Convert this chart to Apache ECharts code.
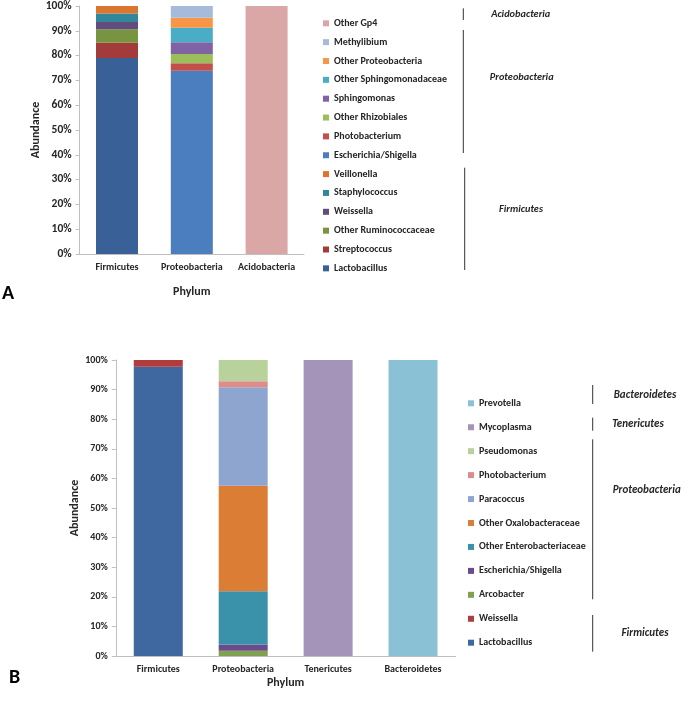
<!DOCTYPE html>
<html>
<head>
<meta charset="utf-8">
<script src="https://cdn.jsdelivr.net/npm/echarts@6/dist/echarts.min.js"></script>
<style>html,body{margin:0;padding:0;background:#fff}#c{width:685px;height:702px}</style>
</head>
<body>
<div id="c"></div>
<script>
// ---------- DATA: Panel A ----------
const phylaA = ['Firmicutes', 'Proteobacteria', 'Acidobacteria'];
const yTicks = ['0%','10%','20%','30%','40%','50%','60%','70%','80%','90%','100%'];
const generaA_Firmicutes = ['Lactobacillus', 'Streptococcus', 'Other Ruminococcaceae', 'Weissella', 'Staphylococcus', 'Veillonella'];
const valuesA_Firmicutes = [79.0, 6.2, 5.4, 2.9, 3.5, 3.0];
const generaA_Proteobacteria = ['Escherichia/Shigella', 'Photobacterium', 'Other Rhizobiales', 'Sphingomonas', 'Other Sphingomonadaceae', 'Other Proteobacteria', 'Methylibium'];
const valuesA_Proteobacteria = [73.9, 3.0, 3.75, 4.7, 5.9, 4.0, 4.75];
const generaA_Acidobacteria = ['Other Gp4'];
const valuesA_Acidobacteria = [100];

// ---------- DATA: Panel B ----------
const phylaB = ['Firmicutes', 'Proteobacteria', 'Tenericutes', 'Bacteroidetes'];
const generaB_Firmicutes = ['Lactobacillus', 'Weissella'];
const valuesB_Firmicutes = [97.7, 2.3];
const generaB_Proteobacteria = ['Arcobacter', 'Escherichia/Shigella', 'Other Enterobacteriaceae', 'Other Oxalobacteraceae', 'Paracoccus', 'Photobacterium', 'Pseudomonas'];
const valuesB_Proteobacteria = [1.8, 2.1, 18.0, 35.6, 33.3, 2.0, 7.2];
const generaB_Tenericutes = ['Mycoplasma'];
const valuesB_Tenericutes = [100];
const generaB_Bacteroidetes = ['Prevotella'];
const valuesB_Bacteroidetes = [100];

// ---------- STYLES ----------
const colorsA = {
  'Lactobacillus':'#3A6098','Streptococcus':'#A23B3A','Other Ruminococcaceae':'#789440','Weissella':'#624C7E',
  'Staphylococcus':'#32879D','Veillonella':'#DB7530','Escherichia/Shigella':'#4A7EBE','Photobacterium':'#C44E4C',
  'Other Rhizobiales':'#9BBD5A','Sphingomonas':'#8063A3','Other Sphingomonadaceae':'#4AADC8','Other Proteobacteria':'#F79646',
  'Methylibium':'#A7BADA','Other Gp4':'#DAA6A6'
};
const colorsB = {
  'Lactobacillus':'#3F68A0','Weissella':'#B23B3B','Arcobacter':'#7FA150','Escherichia/Shigella':'#6A4B8C',
  'Other Enterobacteriaceae':'#3A92AA','Other Oxalobacteraceae':'#DC7D36','Paracoccus':'#8EA6CF','Photobacterium':'#DF8B8B',
  'Pseudomonas':'#B9D19A','Mycoplasma':'#A494BA','Prevotella':'#8BC1D5'
};
const FONT = 'Carlito, "Liberation Sans", Arial, sans-serif';
const TXT = '#262626';
const AXC = '#BFBFBF';

function buildSeries(panel, phyla, groups, colors, gridIdx, barWidth) {
  const out = [];
  groups.forEach(([phylum, genera, values]) => {
    const ci = phyla.indexOf(phylum);
    genera.forEach((g, k) => {
      const data = phyla.map((_, i) => i === ci ? values[k] : null);
      out.push({
        name: panel + g, type: 'bar', stack: panel, xAxisIndex: gridIdx, yAxisIndex: gridIdx,
        barWidth: barWidth, data: data, itemStyle: { color: colors[g] }, emphasis: { disabled: true }
      });
    });
  });
  return out;
}

const seriesA = buildSeries('A|', phylaA, [
  ['Firmicutes', generaA_Firmicutes, valuesA_Firmicutes],
  ['Proteobacteria', generaA_Proteobacteria, valuesA_Proteobacteria],
  ['Acidobacteria', generaA_Acidobacteria, valuesA_Acidobacteria]
], colorsA, 0, 42);
const seriesB = buildSeries('B|', phylaB, [
  ['Firmicutes', generaB_Firmicutes, valuesB_Firmicutes],
  ['Proteobacteria', generaB_Proteobacteria, valuesB_Proteobacteria],
  ['Tenericutes', generaB_Tenericutes, valuesB_Tenericutes],
  ['Bacteroidetes', generaB_Bacteroidetes, valuesB_Bacteroidetes]
], colorsB, 1, 49);

const legendA = seriesA.map(s => s.name).reverse();
const legendB = seriesB.map(s => s.name).reverse();

function yAxis(gridIndex, fs, nameGap) {
  return {
    gridIndex, type: 'value', min: 0, max: 100, interval: 10,
    name: 'Abundance', nameLocation: 'middle', nameGap: nameGap,
    nameTextStyle: { fontFamily: FONT, fontWeight: 'bold', fontSize: 12, color: TXT },
    axisLine: { show: true, lineStyle: { color: AXC } },
    axisTick: { show: true, length: 4, lineStyle: { color: AXC } },
    splitLine: { show: false },
    axisLabel: { formatter: v => yTicks[Math.round(v / 10)], fontFamily: FONT, fontWeight: 'bold', fontSize: fs, color: TXT, margin: 8 }
  };
}
function xAxis(gridIndex, cats, nameGap) {
  return {
    gridIndex, type: 'category', data: cats, boundaryGap: true,
    name: 'Phylum', nameLocation: 'middle', nameGap: nameGap,
    nameTextStyle: { fontFamily: FONT, fontWeight: 'bold', fontSize: 12, color: TXT },
    axisLine: { show: true, lineStyle: { color: AXC } },
    axisTick: { show: false },
    axisLabel: { interval: 0, hideOverlap: false, fontFamily: FONT, fontWeight: 'bold', fontSize: 10, color: TXT, margin: 8 }
  };
}
function legend(data, left, top, gap, fs) {
  return {
    data: data, orient: 'vertical', left: left, top: top, itemWidth: 6, itemHeight: 6, itemGap: gap,
    icon: 'rect', selectedMode: false,
    formatter: n => n.slice(2),
    textStyle: { fontFamily: FONT, fontWeight: 'bold', fontSize: fs, color: TXT, lineHeight: 12, padding: [0, 0, 0, 0] }
  };
}

function vline(x, y1, y2) {
  return { type: 'line', shape: { x1: x, y1: y1, x2: x, y2: y2 }, style: { stroke: '#333', lineWidth: 1 } };
}
function ital(text, cx, cy, fs) {
  return { type: 'text', x: cx, y: cy, style: { text: text, fontFamily: FONT, fontStyle: 'italic', fontWeight: 'bold', fontSize: fs, fill: TXT, align: 'center', verticalAlign: 'middle' } };
}

const option = {
  animation: false,
  grid: [
    { left: 79.6, top: 6, width: 224.4, height: 248 },
    { left: 115.8, top: 360, width: 339.7, height: 296 }
  ],
  xAxis: [xAxis(0, phylaA, 32), xAxis(1, phylaB, 21)],
  yAxis: [yAxis(0, 11.5, 35.6), yAxis(1, 10, 35)],
  legend: [legend(legendA, 318, 12.3, 6.85, 10), legend(legendB, 463, 392.3, 11.94, 10)],
  series: seriesA.concat(seriesB),
  graphic: [
    vline(463.3, 8.3, 20), vline(463.3, 30, 153), vline(464.7, 167.7, 270),
    ital('Acidobacteria', 520.7, 14, 10.3), ital('Proteobacteria', 521.7, 77.3, 10.3), ital('Firmicutes', 521, 209.3, 10.3),
    vline(592.7, 385, 404), vline(592.7, 417.7, 430.7), vline(592.7, 439.3, 599.3), vline(592.7, 615, 651.7),
    ital('Bacteroidetes', 645, 395, 11), ital('Tenericutes', 638, 424.3, 11), ital('Proteobacteria', 646.7, 490, 11), ital('Firmicutes', 645, 633.3, 11),
    { type: 'text', x: 2, y: 294, style: { text: 'A', fontFamily: FONT, fontWeight: 'bold', fontSize: 20, fill: '#000', verticalAlign: 'middle' } },
    { type: 'text', x: 9, y: 678, style: { text: 'B', fontFamily: FONT, fontWeight: 'bold', fontSize: 20, fill: '#000', verticalAlign: 'middle' } }
  ]
};
const chart = echarts.init(document.getElementById('c'), null, { renderer: 'canvas' });
chart.setOption(option);
</script>
</body>
</html>
